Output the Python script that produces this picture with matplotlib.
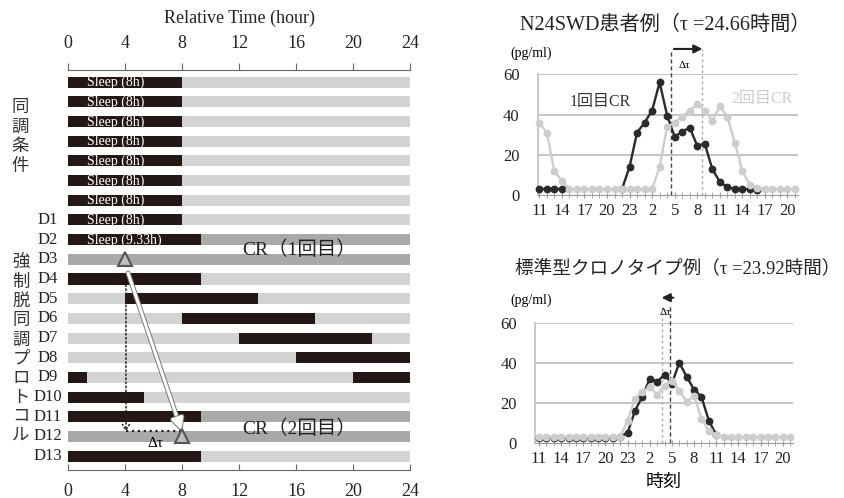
import numpy as np
import matplotlib
matplotlib.use('Agg')
import matplotlib.pyplot as plt
import matplotlib.patheffects as pe

plt.rcParams['font.family'] = ['Liberation Serif', 'Noto Sans CJK JP']

W, H = 845, 498
nan = np.nan

# ---- left panel: forced desynchrony protocol ----
day_labels = [''] * 7 + ['D%d' % i for i in range(1, 14)]
sleep_segments = [[(0, 8)]] * 8 + [
    [(0, 9.33)],            # D2
    [],                     # D3 (CR)
    [(0, 9.33)],            # D4
    [(4, 13.33)],           # D5
    [(8, 17.33)],           # D6
    [(12, 21.33)],          # D7
    [(16, 24)],             # D8
    [(0, 1.33), (20, 24)],  # D9
    [(0, 5.33)],            # D10
    [(0, 9.33)],            # D11
    [],                     # D12 (CR)
    [(0, 9.33)],            # D13
]
sleep_text = ['Sleep (8h)'] * 8 + ['Sleep (9.33h)']
cr_segments = {8: (9.33, 24), 9: (0, 24), 17: (9.33, 24), 18: (0, 24)}
cr_text = ['CR（1回目）', 'CR（2回目）']
hour_ticks = [0, 4, 8, 12, 16, 20, 24]
group1 = '同調条件'
group2 = '強制脱同調プロトコル'

# ---- right panels: melatonin profiles (pg/ml), hourly from 11:00 ----
clock_labels = ['11', '14', '17', '20', '23', '2', '5', '8', '11', '14', '17', '20']
n24_cr1 = [3, 3, 3, 3, nan, nan, nan, nan, nan, nan, nan, 3, 14, 31, 36, 42, 56,
           39.5, 29, 31.5, 33.5, 24.5, 25.5, 13, 6.5, 4, 3, 3, 3, 2.5,
           nan, nan, nan, nan, nan]
n24_cr2 = [36, 31, 12, 7, 3, 3, 3, 3, 3, 3, 3, 3, 3, 3, 3, 3, 14, 34, 36, 39,
           42, 45, 42, 37, 44, 39, 26, 12, 5, 3.5, 3, 3, 3, 3, 3]
std_cr1 = [2.5, 2.5, 2.5, 2.5, 2.5, 2.5, 2.5, 2.5, 2.5, 2.5, 2.5, 3, 5, 16, 23,
           32, 30.5, 34, 29.5, 40, 33, 26.5, 23, 11, 4,
           nan, nan, nan, nan, nan, nan, nan, nan, nan, nan]
std_cr2 = [3, 3, 3, 3, 3, 3, 3, 3, 3, 3, 3, 3, 11, 22, 25.5, 28, 24, 28.5, 31,
           26, 20.5, 23.5, 12, 6, 3.8, 3, 3, 3, 3, 3, 3, 3, 3, 3, 3]

BLACK = '#231815'
LIGHT = '#d3d3d3'
CRGRAY = '#a9a9a9'
DARK = '#2a2a2a'
LGRAY = '#cdcdcd'
GRID = '#c4c4c4'

fig = plt.figure(figsize=(W / 100, H / 100), dpi=100)


def fx(x):
    return x / W


def fy(y):
    return 1 - y / H


# ================= left panel =================
axL = fig.add_axes([fx(68.3), fy(470), (410 - 68.3) / W, 400 / H])
axL.set_xlim(0, 24)
axL.set_ylim(19.71, -0.625)
bh = 0.56
for i in range(len(day_labels)):
    axL.barh(i, 24, left=0, height=bh, color=LIGHT, zorder=1)
    if i in cr_segments:
        a, b = cr_segments[i]
        axL.barh(i, b - a, left=a, height=bh, color=CRGRAY, zorder=2)
    for a, b in sleep_segments[i]:
        axL.barh(i, b - a, left=a, height=bh, color=BLACK, zorder=3)
    if i < len(sleep_text):
        axL.text(1.3, i + 0.02, sleep_text[i], color='white', fontsize=10,
                 va='center', ha='left', zorder=4)
    axL.text(-1.45, i, day_labels[i], fontsize=12, ha='center', va='center',
             clip_on=False, color='#222222')

axL.text(16.2, 8.5, cr_text[0], fontsize=14, ha='center', va='center', zorder=5,
         color='#222222')
axL.text(16.2, 17.6, cr_text[1], fontsize=14, ha='center', va='center', zorder=5,
         color='#222222')

# dotted guide + delta tau
axL.annotate('', xy=(4.05, 17.75), xytext=(4.05, 10.3),
             arrowprops=dict(arrowstyle='->,head_length=0.4,head_width=0.25',
                             color='#222', lw=1.1, ls=':', shrinkA=0, shrinkB=0),
             zorder=6)
axL.plot([4.05, 7.9], [17.75, 17.75], color='#222', lw=1.6, ls=':', zorder=6)
axL.text(6.1, 18.35, 'Δτ', fontsize=11, ha='center', va='center', zorder=7)

# white arrow between the two CR phases
axL.annotate('', xy=(7.95, 17.7), xytext=(4.2, 9.7),
             arrowprops=dict(arrowstyle='-|>,head_length=0.7,head_width=0.35',
                             color='white', lw=2.2, shrinkA=0, shrinkB=0,
                             path_effects=[pe.withStroke(linewidth=3.6, foreground='#777777')]),
             zorder=7)
axL.plot([4, 8], [9, 18], ls='none', marker='^', ms=9.5, mfc='#bdbdbd',
         mec='#555555', mew=1.5, zorder=8)

for s in ['left', 'right', 'top']:
    axL.spines[s].set_visible(False)
axL.spines['bottom'].set_color('#666666')
axL.set_yticks([])
axL.set_xticks(hour_ticks)
axL.tick_params(axis='x', direction='in', length=4, color='#666666',
                labelsize=13, pad=9, labelcolor='#222222')
top = axL.secondary_xaxis('top')
top.set_xticks(hour_ticks)
top.spines['top'].set_color('#666666')
top.tick_params(axis='x', direction='out', length=5, color='#666666',
                labelsize=13, pad=8, labelcolor='#222222')
top.set_xlabel('Relative Time (hour)', fontsize=13, labelpad=9, color='#222222')

for k, ch in enumerate(group1):
    fig.text(fx(20), fy(107 + 19.5 * k), ch, fontsize=12.5, ha='center',
             va='center', family='Noto Sans CJK JP', color='#333333')
for k, ch in enumerate(group2):
    fig.text(fx(21), fy(263 + 19.1 * k), ch, fontsize=12.5, ha='center',
             va='center', family='Noto Sans CJK JP', color='#333333')


# ================= right panels =================
def profile(ax, cr1, cr2, xlo):
    idx = np.arange(len(cr2))
    ax.set_xlim(xlo, 34.4)
    ax.set_ylim(0, 60)
    for y in [20, 40, 60]:
        ax.axhline(y, color=GRID, lw=1.4, zorder=0)
    ax.plot(idx, cr1, color=DARK, lw=1.7, marker='o', ms=4.6, zorder=3,
            clip_on=False)
    ax.plot(idx, cr2, color=LGRAY, lw=1.7, marker='o', ms=4.6, zorder=4,
            clip_on=False)
    for s in ['top', 'right']:
        ax.spines[s].set_visible(False)
    ax.spines['left'].set_color(GRID)
    ax.spines['left'].set_linewidth(1.3)
    ax.spines['bottom'].set_color('#999999')
    ax.set_yticks([0, 20, 40, 60])
    ax.tick_params(axis='y', length=0, pad=13, labelsize=12, labelcolor='#222222')
    ax.set_xticks(idx, minor=True)
    ax.set_xticks(idx[::3][:len(clock_labels)])
    ax.set_xticklabels(clock_labels)
    ax.tick_params(axis='x', which='both', direction='inout', length=4,
                   color='#999999', labelsize=12, pad=4, labelcolor='#222222')


axT = fig.add_axes([fx(537.8), fy(195), (798 - 537.8) / W, (195 - 74.3) / H])
profile(axT, n24_cr1, n24_cr2, -0.2)
axT.plot([17.5, 17.5], [0, 72.5], color='#444444', lw=1.0, ls=(0, (3, 2)),
         clip_on=False, zorder=2)
axT.plot([21.7, 21.7], [0, 72.5], color='#aaaaaa', lw=1.0, ls=(0, (2, 2)),
         clip_on=False, zorder=2)
axT.annotate('', xy=(21.7, 72.6), xytext=(17.9, 72.6), annotation_clip=False,
             arrowprops=dict(arrowstyle='-|>,head_length=0.5,head_width=0.25',
                             color='#222222', lw=1.5, shrinkA=0, shrinkB=0))
axT.text(19.3, 64.5, 'Δτ', fontsize=8, ha='center', va='center')
axT.text(8.1, 46, '1回目CR', fontsize=11.5, color='#333333', ha='center', va='center')
axT.text(29.6, 47.5, '2回目CR', fontsize=11.5, color='#cccccc', ha='center', va='center')
fig.text(fx(520), fy(25), 'N24SWD患者例（τ =24.66時間）', fontsize=14.5,
         ha='left', va='center', color='#222222')
fig.text(fx(531), fy(53), '(pg/ml)', fontsize=10, ha='center', va='center')

axB = fig.add_axes([fx(535), fy(442.7), (793 - 535) / W, 120 / H])
profile(axB, std_cr1, std_cr2, -0.54)
axB.plot([17.7, 17.7], [0, 69.5], color='#444444', lw=1.0, ls=(0, (3, 2)),
         clip_on=False, zorder=2)
axB.plot([16.7, 16.7], [0, 69.5], color='#aaaaaa', lw=1.0, ls=(0, (2, 2)),
         clip_on=False, zorder=2)
axB.annotate('', xy=(16.6, 72.5), xytext=(18.2, 72.5), annotation_clip=False,
             arrowprops=dict(arrowstyle='-|>,head_length=0.5,head_width=0.25',
                             color='#222222', lw=1.5, shrinkA=0, shrinkB=0))
axB.text(17.2, 65, 'Δτ', fontsize=8, ha='center', va='center')
axB.set_xlabel('時刻', fontsize=13, labelpad=5)
fig.text(fx(515), fy(268), '標準型クロノタイプ例（τ =23.92時間）', fontsize=13.4,
         ha='left', va='center', color='#222222')
fig.text(fx(531), fy(300), '(pg/ml)', fontsize=10, ha='center', va='center')

fig.savefig('out.png', dpi=100)
